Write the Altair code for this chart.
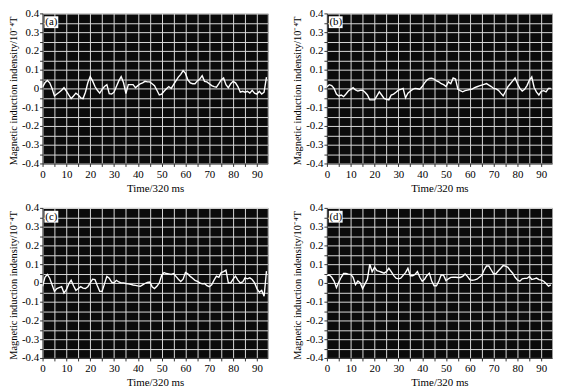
import altair as alt
import pandas as pd

time = list(range(95))

panel_a = [0.007, 0.03, 0.042, 0.03, 0.0, -0.04, -0.03, -0.02, -0.01, 0.004,
           -0.015, -0.035, -0.054, -0.04, -0.025, -0.035, -0.05, -0.054, -0.02, 0.03,
           0.063, 0.04, 0.01, -0.01, -0.025, -0.005, 0.01, 0.02, -0.028, -0.03,
           -0.02, 0.01, 0.04, 0.063, 0.03, -0.028, 0.02, 0.02, 0.02, 0.004,
           0.015, 0.025, 0.03, 0.038, 0.035, 0.035, 0.025, 0.015, -0.01, -0.035,
           -0.03, -0.015, -0.002, 0.01, 0.0, 0.02, 0.04, 0.06, 0.075, 0.095,
           0.08, 0.045, 0.03, 0.025, 0.025, 0.04, 0.05, 0.068, 0.038, 0.035,
           0.025, 0.015, 0.01, 0.007, 0.025, 0.045, 0.056, 0.02, 0.004, 0.025,
           0.038, 0.03, 0.01, -0.02, -0.015, -0.02, -0.015, -0.025, -0.01, -0.025,
           -0.03, -0.015, -0.03, -0.02, 0.06]

panel_b = [0.009, 0.02, 0.015, 0.0, -0.03, -0.04, -0.035, -0.044, -0.03, -0.014,
           -0.005, 0.004, -0.008, -0.014, -0.01, -0.009, -0.02, -0.035, -0.061, -0.061,
           -0.061, -0.04, -0.018, -0.035, -0.053, -0.058, -0.061, -0.035, -0.03, -0.02,
           -0.009, -0.005, 0.0, -0.05, -0.025, -0.015, -0.005, 0.0, -0.002, -0.004,
           0.01, 0.03, 0.045, 0.053, 0.055, 0.05, 0.04, 0.035, 0.025, 0.02,
           0.01, 0.035, 0.025, 0.056, 0.05, -0.005, -0.012, -0.018, -0.012, -0.009,
           -0.006, -0.004, 0.004, 0.009, 0.014, 0.018, 0.022, 0.026, 0.018, 0.01,
           0.0, -0.002, -0.01, -0.025, -0.039, -0.015, 0.009, 0.025, 0.04, 0.056,
           0.025, 0.0, -0.014, -0.005, 0.015, 0.044, 0.061, 0.005, -0.02, -0.035,
           -0.015, -0.012, -0.018, 0.0, 0.0]

panel_c = [-0.018, 0.03, 0.045, 0.025, -0.01, -0.045, -0.03, -0.025, -0.02, -0.054,
           -0.036, -0.005, 0.014, -0.015, -0.04, -0.03, -0.02, -0.028, -0.03, -0.02,
           0.0, 0.02, 0.018, -0.015, -0.045, -0.045, -0.005, 0.035, 0.025, 0.004,
           0.0, 0.014, 0.005, 0.0, 0.0, -0.003, -0.005, -0.008, -0.011, -0.013,
           -0.016, -0.018, -0.01, -0.003, 0.003, 0.005, -0.02, -0.03, -0.018, 0.0,
           0.04, 0.055, 0.05, 0.048, 0.045, 0.05, 0.035, 0.02, 0.008, 0.02,
           0.055, 0.048, 0.035, 0.025, 0.014, 0.008, 0.0, -0.005, -0.003, -0.015,
           -0.02, -0.01, 0.015, 0.036, 0.03, 0.055, 0.06, 0.068, 0.0, 0.0,
           0.02, 0.036, 0.015, 0.0, 0.005, 0.027, 0.022, 0.027, 0.018, 0.0,
           -0.03, -0.05, -0.04, -0.071, 0.063]

panel_d = [0.04, 0.042, 0.03, 0.01, -0.025, 0.005, 0.03, 0.05, 0.05, 0.047,
           0.046, 0.03, -0.009, 0.01, 0.0, -0.03, -0.005, 0.02, 0.1, 0.06,
           0.083, 0.065, 0.062, 0.057, 0.052, 0.06, 0.078, 0.06, 0.04, 0.025,
           0.022, 0.025, 0.04, 0.055, 0.078, 0.038, 0.038, 0.045, 0.06, 0.03,
           0.009, 0.02, 0.04, 0.052, 0.01, -0.015, -0.015, 0.01, 0.043, 0.04,
           0.012, 0.022, 0.03, 0.031, 0.03, 0.029, 0.029, 0.035, 0.048, 0.035,
           0.018, 0.014, 0.016, 0.02, 0.03, 0.04, 0.069, 0.09, 0.09, 0.069,
           0.048, 0.05, 0.065, 0.078, 0.093, 0.09, 0.083, 0.066, 0.052, 0.03,
           0.016, 0.009, 0.022, 0.024, 0.024, 0.034, 0.018, 0.022, 0.026, 0.018,
           0.015, 0.009, -0.003, -0.017, -0.01]

labels = ["(a)", "(b)", "(c)", "(d)"]
x_ticks = list(range(0, 95, 5))
y_ticks = [round(-0.4 + 0.05 * i, 2) for i in range(17)]

FONT = "Liberation Serif"
Y_TITLE = "Magnetic induction indensity/10\u207b\u2074T"
PANEL_W = 228
PANEL_H = 152

y_label_expr = (
    "abs(round(datum.value*20)) % 2 == 0 ? "
    "(abs(datum.value) < 1e-9 ? '0' : (datum.value < 0 ? '-' + format(-datum.value, '.1f') "
    ": format(datum.value, '.1f'))) : ''"
)


def panel(vals, label):
    df = pd.DataFrame({"t": time, "v": vals})
    x = alt.X(
        "t:Q",
        scale=alt.Scale(domain=[0, 94.5], nice=False, zero=False),
        axis=alt.Axis(
            values=x_ticks,
            labelExpr="datum.value % 10 == 0 ? datum.label : ''",
            title="Time/320 ms",
            tickSize=3,
            labelPadding=2,
            titlePadding=3,
        ),
    )
    y = alt.Y(
        "v:Q",
        scale=alt.Scale(domain=[-0.4, 0.4], nice=False),
        axis=alt.Axis(
            values=y_ticks,
            labelExpr=y_label_expr,
            title=Y_TITLE,
            titleFontSize=10.5,
            titleY=PANEL_H / 2 + 2,
            tickSize=3,
            labelPadding=1,
            titlePadding=3,
        ),
    )
    line = alt.Chart(df).mark_line(color="white", strokeWidth=1.4, clip=True).encode(x=x, y=y)
    lab_df = pd.DataFrame({"t": [3.7], "v": [0.353], "label": [label]})
    box = alt.Chart(lab_df).mark_rect(color="white", width=14, height=12).encode(x=x, y=y)
    txt = alt.Chart(lab_df).mark_text(font=FONT, fontSize=11, color="black").encode(
        x=x, y=y, text="label:N"
    )
    return alt.layer(line, box, txt).properties(width=PANEL_W, height=PANEL_H)


pa = panel(panel_a, labels[0])
pb = panel(panel_b, labels[1])
pc = panel(panel_c, labels[2])
pd_ = panel(panel_d, labels[3])

chart = (
    alt.vconcat(
        alt.hconcat(pa, pb, spacing=24),
        alt.hconcat(pc, pd_, spacing=24),
        spacing=7,
    )
    .properties(padding={"top": -4, "left": 0, "right": 0, "bottom": 0}, background="white")
    .configure_view(fill="#0b0b0b", stroke="#999999", strokeWidth=1)
    .configure_axis(
        grid=True,
        gridColor="#d9d9d9",
        gridWidth=1,
        gridOpacity=1,
        domainColor="#333333",
        tickColor="#333333",
        labelFont=FONT,
        labelFontSize=11,
        labelColor="black",
        titleFont=FONT,
        titleFontSize=11,
        titleFontWeight="normal",
        titleColor="black",
        labelFlush=False,
    )
)

chart.save("out.html", embed_options={"renderer": "svg", "actions": False})
